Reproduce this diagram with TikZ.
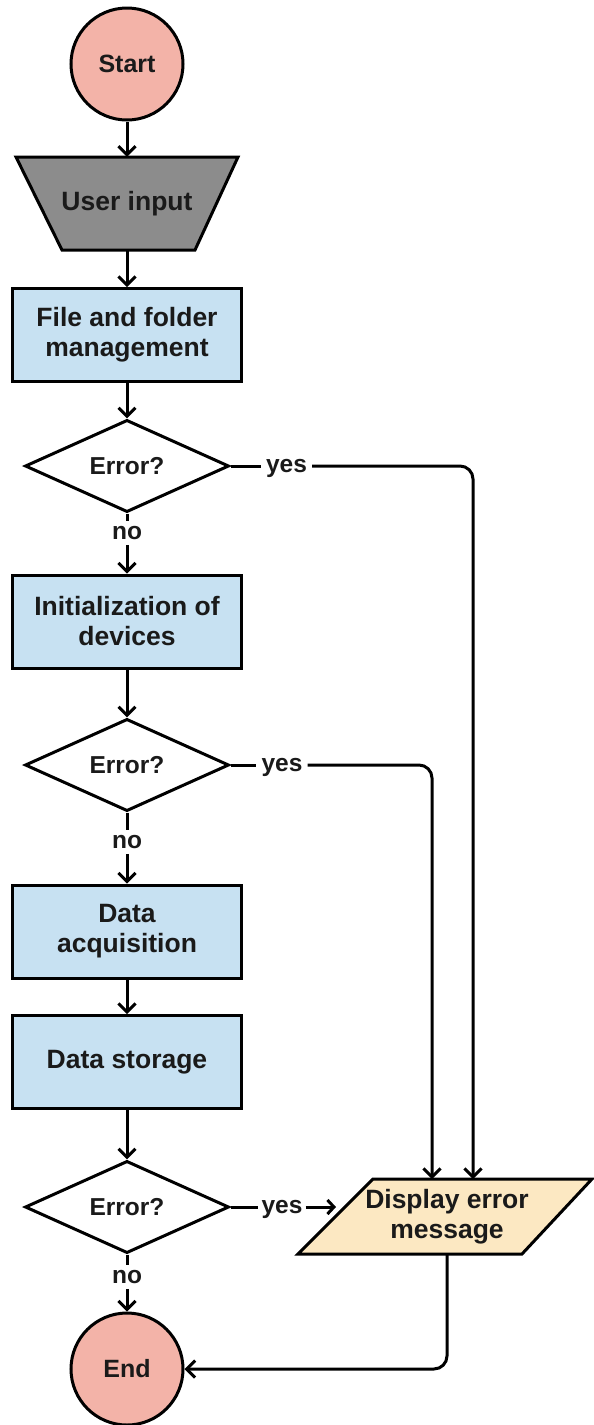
\documentclass[tikz,border=0pt]{standalone}
\usepackage{fontspec}
\setmainfont{Liberation Sans}
\usetikzlibrary{arrows.meta,shapes.geometric}
\definecolor{termfill}{HTML}{F3B3A8}
\definecolor{boxfill}{HTML}{C7E1F2}
\definecolor{inputfill}{HTML}{8C8C8C}
\definecolor{dispfill}{HTML}{FCE8C2}
\definecolor{txt}{HTML}{1A1A1A}
\begin{document}
\begin{tikzpicture}[x=1pt,y=-1pt,
  every node/.style={font=\fontsize{26.5}{30}\selectfont\bfseries, text=txt},
  small/.style={font=\fontsize{24.5}{30}\selectfont\bfseries},
  line/.style={line width=3pt, draw=black},
  arr/.style={line width=3pt, draw=black, -{Straight Barb[length=8.5pt,width=17pt]}},
  term/.style={circle, draw, line width=3pt, fill=termfill, minimum size=112pt, inner sep=0pt, font=\fontsize{25}{30}\selectfont\bfseries},
  proc/.style={rectangle, draw, line width=3pt, fill=boxfill, minimum width=229pt, minimum height=93pt, align=center, inner sep=0pt},
  dec/.style={diamond, draw, line width=3pt, fill=white, minimum width=204pt, minimum height=92pt, inner sep=0pt, small},
  lab/.style={inner sep=5pt, small},
  ylab/.style={inner sep=5pt, small, anchor=base},
  ghost/.style={rectangle, inner sep=0pt, align=center},
]
\useasboundingbox (0,0) rectangle (594,1425);
\fill[white] (0,0) rectangle (594,1425);

% shapes
\node[term] (start) at (127,64) {Start};
\draw[line, fill=inputfill] (16,157) -- (238,157) -- (195,250) -- (62,250) -- cycle;
\node[ghost, minimum width=222pt, minimum height=93pt] (inp) at (127,203.5) {User input};
\node[proc] (b1) at (127,335) {File and folder\\management};
\node[dec] (d1) at (127,466) {Error?};
\node[lab] (no1) at (127,533) {no};
\node[ylab] (yes1) at (286.5,472) {yes};
\node[proc] (b2) at (127,621.5) {Initialization of\\devices};
\node[dec] (d2) at (127,765) {Error?};
\node[lab] (no2) at (127,842) {no};
\node[ylab] (yes2) at (282,771) {yes};
\node[proc] (b3) at (127,931.5) {Data\\acquisition};
\node[proc] (b4) at (127,1062) {Data storage};
\node[dec] (d3) at (127,1207) {Error?};
\node[lab] (no3) at (127,1277) {no};
\node[ylab, inner sep=3pt] (yes3) at (282,1213) {yes};
\draw[line, fill=dispfill] (373,1179) -- (592,1179) -- (522,1254) -- (298,1254) -- cycle;
\node[ghost, minimum width=150pt, minimum height=75pt] (disp) at (447,1216.5) {Display error\\message};
\node[term] (end) at (127,1369) {End};

\coordinate (in1) at (473,1179);
\coordinate (in2) at (432,1179);
\coordinate (in3) at (336,1207);

% connectors
\draw[arr] (start) -- (inp);
\draw[arr] (inp) -- (b1);
\draw[arr] (b1) -- (d1);
\draw[line] (d1.south) -- (no1.north);
\draw[arr] (no1) -- (b2);
\draw[arr] (b2) -- (d2);
\draw[line] (d2.south) -- (no2.north);
\draw[arr] (no2) -- (b3);
\draw[arr] (b3) -- (b4);
\draw[arr] (b4) -- (d3);
\draw[line] (d3.south) -- (no3.north);
\draw[arr] (no3) -- (end);

\draw[line] (d1.east) -- (d1.east -| yes1.west);
\draw[arr, rounded corners=13pt] (d1.east -| yes1.east) -| (in1);
\draw[line] (d2.east) -- (d2.east -| yes2.west);
\draw[arr, rounded corners=13pt] (d2.east -| yes2.east) -| (in2);
\draw[line] (d3.east) -- (d3.east -| yes3.west);
\draw[arr, -{Straight Barb[length=6.5pt,width=14pt]}] (d3.east -| yes3.east) -- (in3);
\draw[arr, rounded corners=13pt] (disp.south) |- (end);
\end{tikzpicture}
\end{document}
